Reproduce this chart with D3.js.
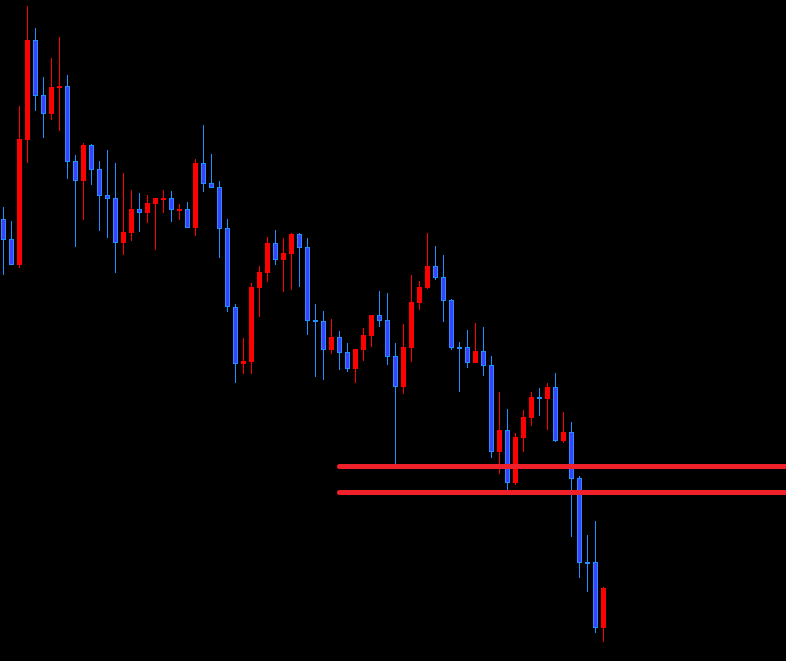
<!DOCTYPE html>
<html>
<head>
<meta charset="utf-8">
<script src="https://cdn.jsdelivr.net/npm/d3@7"></script>
<style>
  html, body { margin: 0; padding: 0; background: #000; overflow: hidden; }
  svg { display: block; }
</style>
</head>
<body>
<svg id="chart" width="786" height="661"></svg>
<script>
const opens  = [781,761,735,860,960,905,886,912,914,839,819,855,831,805,802,757,767,791,787,796,801,802,790,791,772,837,817,813,772,693,636,638,712,727,757,740,746,766,753,680,679,650,663,648,631,650,664,685,680,644,613,652,697,712,734,723,700,653,653,637,649,635,548,570,517,562,582,603,601,613,559,568,522,438,438,372];
const highs  = [793,779,894,994,972,923,942,963,925,845,857,856,839,850,837,827,810,807,805,802,810,809,796,798,841,875,846,819,781,696,662,717,734,763,770,762,767,767,762,696,689,681,669,657,651,672,685,709,707,657,676,725,719,767,754,745,701,658,670,677,673,644,608,591,567,590,608,612,617,627,588,578,524,465,479,413];
const lows   = [725,735,732,837,889,862,880,869,821,753,780,815,769,762,727,745,759,768,777,750,787,778,780,772,764,808,812,742,688,617,626,626,683,718,735,708,710,713,665,623,620,646,630,628,617,639,653,673,635,535,606,638,690,711,720,678,650,608,632,637,624,542,526,510,515,548,574,584,570,558,557,463,422,408,367,358];
const closes = [760,735,861,960,904,886,913,914,838,819,855,830,804,801,757,768,791,787,797,802,802,790,791,772,837,816,812,771,693,636,639,713,728,757,740,747,766,752,679,678,650,663,647,631,651,665,685,679,643,613,653,698,713,734,722,699,652,652,637,649,634,548,570,517,563,583,603,601,613,559,568,521,437,437,372,412];
const levels = [533.5, 507.5];
const levelStartIndex = 42;

const W = 786, H = 661;
const svg = d3.select("#chart");
svg.append("rect").attr("width", W).attr("height", H).attr("fill", "#000");

const data = opens.map((o, i) => ({ i, o, h: highs[i], l: lows[i], c: closes[i] }));

const x = d3.scaleLinear().domain([0, 75]).range([3.5, 603.5]);
const y = d3.scaleLinear().domain([339, 1000]).range([661, 0]);

const up = d => d.c > d.o;
const wickCol = d => up(d) ? "#ff0000" : "#1e90ff";

const g = svg.append("g");

g.selectAll("line.wick").data(data).join("line")
  .attr("class", "wick")
  .attr("x1", d => Math.floor(x(d.i)) + 0.5)
  .attr("x2", d => Math.floor(x(d.i)) + 0.5)
  .attr("y1", d => y(d.h))
  .attr("y2", d => y(d.l))
  .attr("stroke", wickCol)
  .attr("stroke-width", 1);

g.selectAll("rect.body").data(data).join("rect")
  .attr("class", "body")
  .attr("x", d => Math.floor(x(d.i)) - 2 + (up(d) ? 0 : 0.5))
  .attr("width", d => up(d) ? 5 : 4)
  .attr("y", d => Math.round(y(Math.max(d.o, d.c))) + (up(d) ? 0 : 0.5))
  .attr("height", d => {
    const hgt = Math.abs(y(d.o) - y(d.c));
    return up(d) ? Math.max(2, hgt) : Math.max(1, hgt - 1);
  })
  .attr("fill", d => up(d) ? "#ff0000" : "#4040ff")
  .attr("stroke", d => up(d) ? "none" : "#1e90ff")
  .attr("stroke-width", 1);

svg.selectAll("line.level").data(levels).join("line")
  .attr("class", "level")
  .attr("x1", x(levelStartIndex))
  .attr("x2", W + 5)
  .attr("y1", d => y(d))
  .attr("y2", d => y(d))
  .attr("stroke", "#f0202a")
  .attr("stroke-width", 5)
  .attr("stroke-linecap", "round");
</script>
</body>
</html>
